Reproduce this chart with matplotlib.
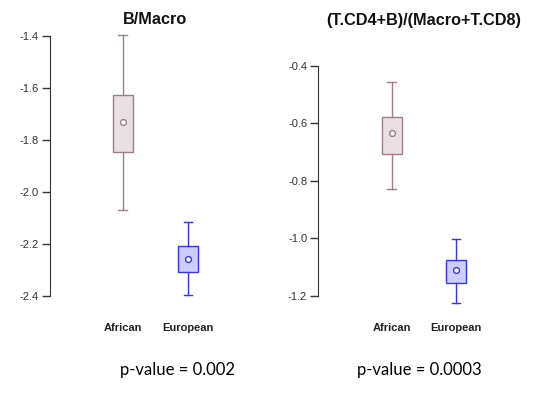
import matplotlib
matplotlib.use("Agg")
import matplotlib.pyplot as plt

W, H = 550, 399
DPI = 100

groups = ["African", "European"]

# B/Macro stats: whislo, q1, med, q3, whishi
bm_african = [-2.070, -1.847, -1.731, -1.626, -1.395]
bm_european = [-2.394, -2.306, -2.258, -2.206, -2.114]

# (T.CD4+B)/(Macro+T.CD8)
tc_african = [-0.829, -0.707, -0.634, -0.578, -0.458]
tc_european = [-1.223, -1.155, -1.110, -1.074, -1.003]

titles = ["B/Macro", "(T.CD4+B)/(Macro+T.CD8)"]
pvalues = ["p-value = 0.002", "p-value = 0.0003"]
yticks_left = [-1.4, -1.6, -1.8, -2.0, -2.2, -2.4]
yticks_right = [-0.4, -0.6, -0.8, -1.0, -1.2]

fills = ["#E9E0E3", "#CCCCFF"]
edges = ["#A07C86", "#3535F0"]

plt.rcParams["font.family"] = ["Liberation Sans", "DejaVu Sans"]

fig = plt.figure(figsize=(W / DPI, H / DPI), dpi=DPI)
fig.patch.set_facecolor("white")


def px_axes(x0, y0, x1, y1):
    return fig.add_axes([x0 / W, 1 - y1 / H, (x1 - x0) / W, (y1 - y0) / H])


def draw_panel(ax, data, yticks, xlim, ylim):
    for i, (d, fc, ec) in enumerate(zip(data, fills, edges)):
        st = [dict(whislo=d[0], q1=d[1], med=d[2], q3=d[3], whishi=d[4], fliers=[])]
        ax.bxp(st, positions=[i + 1], widths=0.31, capwidths=0.13, patch_artist=True,
               showfliers=False,
               boxprops=dict(facecolor=fc, edgecolor=ec, linewidth=1.0),
               whiskerprops=dict(color=ec, linewidth=1.0, linestyle="-"),
               capprops=dict(color=ec, linewidth=1.0),
               medianprops=dict(visible=False))
        ax.plot([i + 1], [d[2]], marker="o", markersize=4.2, markerfacecolor="white",
                markeredgecolor=ec, markeredgewidth=1.0, linestyle="none", zorder=5)
    ax.set_xlim(*xlim)
    ax.set_ylim(*ylim)
    for s in ["top", "right", "bottom"]:
        ax.spines[s].set_visible(False)
    ax.spines["left"].set_bounds(min(yticks), max(yticks))
    ax.spines["left"].set_color("#333333")
    ax.set_yticks(yticks)
    ax.set_yticklabels([f"{t:.1f}" for t in yticks])
    ax.tick_params(axis="y", length=6, width=1.0, color="#333333", pad=2,
                   labelsize=8, labelcolor="#333333")
    ax.set_xticks([1, 2])
    ax.set_xticklabels(groups, fontweight="bold", fontsize=8, color="#222222")
    ax.tick_params(axis="x", length=0)
    ax.patch.set_visible(False)


ax1 = px_axes(49.5, 30, 230, 300)
draw_panel(ax1, [bm_african, bm_european], yticks_left, (-0.126, 2.65), (-2.415, -1.377))
ax1.tick_params(axis="x", pad=16.5)

ax2 = px_axes(318.3, 60, 500, 305)
draw_panel(ax2, [tc_african, tc_european], yticks_right, (-0.136, 2.68), (-1.231, -0.380))
ax2.tick_params(axis="x", pad=12.8)

fig.text(155 / W, 1 - 20 / H, titles[0], ha="center", va="center",
         fontsize=11.7, fontweight="bold", color="#111111")
fig.text(424 / W, 1 - 21 / H, titles[1], ha="center", va="center",
         fontsize=11.7, fontweight="bold", color="#111111")

fig.text(178 / W, 1 - 370 / H, pvalues[0], ha="center", va="center",
         fontsize=12, family=["Lato", "DejaVu Sans"], color="#000000")
fig.text(419 / W, 1 - 370 / H, pvalues[1], ha="center", va="center",
         fontsize=12, family=["Lato", "DejaVu Sans"], color="#000000")

fig.savefig("out.png", dpi=DPI)
